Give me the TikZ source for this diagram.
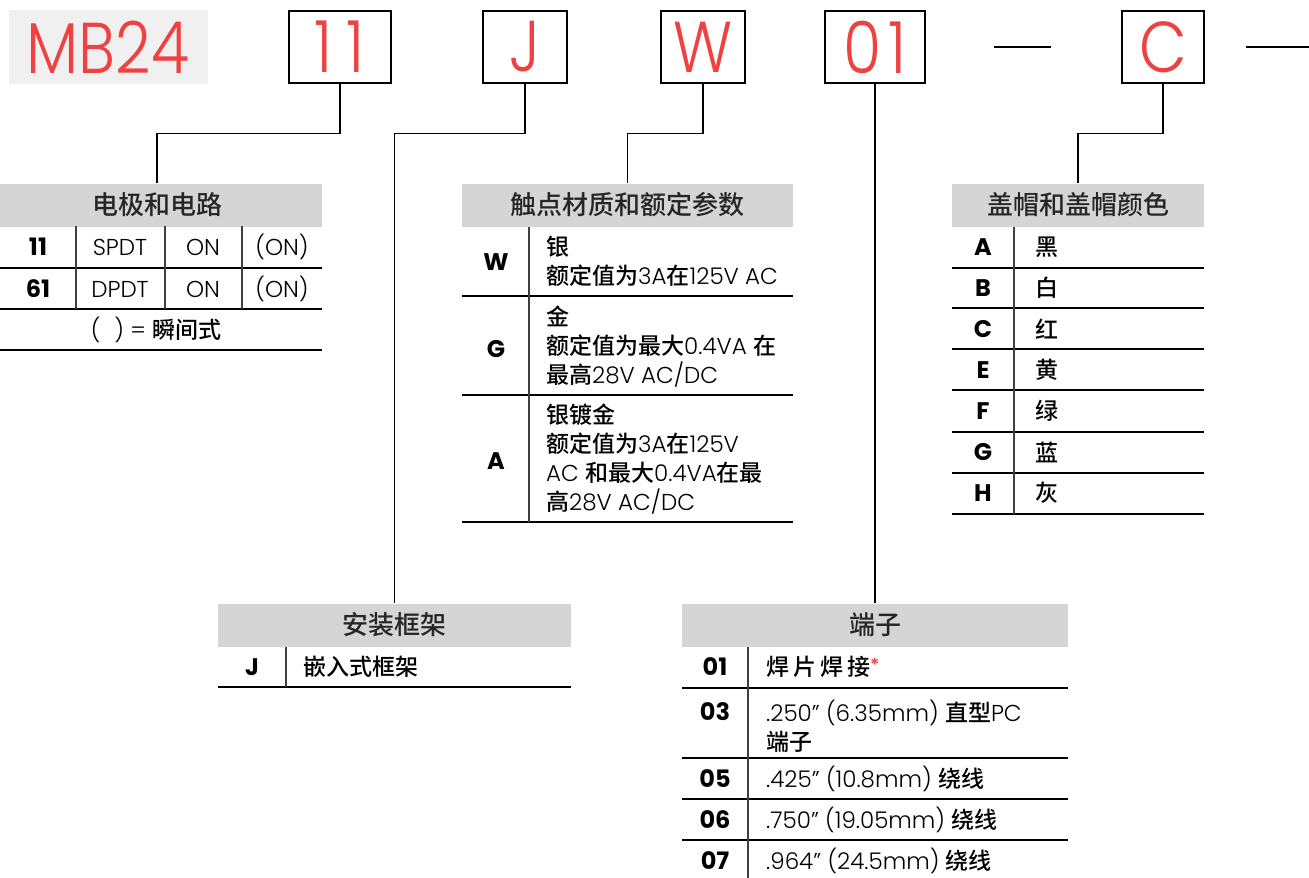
\documentclass[tikz,border=0pt]{standalone}
\usepackage{fontspec}
\setmainfont{Poppins}
\IfFontExistsTF{Poppins Light}
  {\newfontfamily\litefont{Poppins Light}\newfontfamily\codefont{Poppins Light}[FakeStretch=0.86]}
  {\newfontfamily\litefont{Poppins}\newfontfamily\codefont{Poppins}[FakeStretch=0.86]}
\IfFontExistsTF{Noto Sans CJK SC Medium}
  {\newfontfamily\cjkfont{Noto Sans CJK SC Medium}}
  {\newfontfamily\cjkfont{Noto Sans CJK SC}}
\newcommand\cjk[1]{{\cjkfont #1}}
\usepackage{tikz}
\usetikzlibrary{positioning}
\definecolor{mbred}{RGB}{239,65,66}
\definecolor{hdrgray}{RGB}{213,213,213}
\definecolor{tagbg}{RGB}{240,240,240}

\begin{document}
\begin{tikzpicture}[
        x=1pt, y=-1pt,
        box/.style={draw, line width=2.5pt, minimum height=72pt, inner sep=0pt, text=mbred, font=\codefont\fontsize{72}{72}\selectfont},
        hdr/.style={fill=hdrgray, inner sep=0pt, minimum height=43pt, font=\cjkfont\fontsize{26}{26}\selectfont, text=black!85},
        key/.style={inner sep=0pt, font=\bfseries\fontsize{24}{24}\selectfont},
        cell/.style={inner sep=0pt, font=\litefont\fontsize{23}{29}\selectfont},
        item/.style={cell, anchor=west, align=left},
        rule/.style={line width=1.4pt},
        sep/.style={line width=1.4pt, black!75},
        conn/.style={line width=1.3pt}
    ]
    \useasboundingbox (0,0) rectangle (1309,878);
    % Fila superior: codigo de pedido
    \node[fill=tagbg, minimum width=199pt, minimum height=74pt, inner sep=0pt, text=mbred, font=\codefont\fontsize{72}{72}\selectfont] (mb) at (108,47) {MB24};
    \node[box, minimum width=102pt] (b11) at (340,47) {1\hspace{14pt}1};
    \node[box, minimum width=84pt] (bJ) at (525,47) {J};
    \node[box, minimum width=84pt] (bW) at (703,47) {W};
    \node[box, minimum width=100pt] (b01) at (875,47) {0\hspace{7pt}1};
    \node[box, minimum width=82pt] (bC) at (1163,47) {C};
    \draw[line width=2.5pt] (994,47) -- (1051,47);
    \draw[line width=2.5pt] (1246,47) -- (1309,47);

    % Tabla: electrodos y circuito
    \node[hdr, minimum width=330pt] (hdr1) at (157,205) {电极和电路};
    \node[key] (k11) at (38,247) {11};
    \node[cell] (s11) at (120,247) {SPDT};
    \node[cell] (on11) at (203,247) {ON};
    \node[cell] (mo11) at (282,247) {(ON)};
    \node[key] (k61) at (38,289) {61};
    \node[cell] (s61) at (120,289) {DPDT};
    \node[cell] (on61) at (203,289) {ON};
    \node[cell] (mo61) at (282,289) {(ON)};
    \node[cell] (note1) at (156,330) {(\hspace{14pt}) = \cjk{瞬间式}};
    \draw[rule] (0,268) -- (322,268);
    \draw[rule] (0,309) -- (322,309);
    \draw[rule] (0,350) -- (322,350);
    \draw[sep] (76,226) -- (76,309);
    \draw[sep] (165,226) -- (165,309);
    \draw[sep] (242,226) -- (242,309);

    % Tabla: material de contacto
    \node[hdr, minimum width=331pt] (hdr2) at (627.5,205) {触点材质和额定参数};
    \node[key] (kW) at (496,262) {W};
    \node[item] (tW) at (546,261) {\cjk{银}\\\cjk{额定值为}3A\cjk{在}125V AC};
    \node[key] (kG) at (496,349) {G};
    \node[item] (tG) at (546,347) {\cjk{金}\\\cjk{额定值为最大}0.4VA \cjk{在}\\\cjk{最高}28V AC/DC};
    \node[key] (kA) at (496,461) {A};
    \node[item] (tA) at (546,459) {\cjk{银镀金}\\\cjk{额定值为}3A\cjk{在}125V\\AC \cjk{和最大}0.4VA\cjk{在最}\\\cjk{高}28V AC/DC};
    \draw[rule] (462,296) -- (793,296);
    \draw[rule] (462,395) -- (793,395);
    \draw[rule] (462,522) -- (793,522);
    \draw[sep] (529,227) -- (529,522);

    % Tabla: colores de capuchon
    \node[hdr, minimum width=252pt] (hdr3) at (1078,205) {盖帽和盖帽颜色};
    \node[key] (cA) at (983,247) {A};
    \node[item] (nA) at (1035,247) {\cjk{黑}};
    \node[key] (cB) at (983,288) {B};
    \node[item] (nB) at (1035,288) {\cjk{白}};
    \node[key] (cC) at (983,329) {C};
    \node[item] (nC) at (1035,329) {\cjk{红}};
    \node[key] (cE) at (983,370) {E};
    \node[item] (nE) at (1035,370) {\cjk{黄}};
    \node[key] (cF) at (983,411) {F};
    \node[item] (nF) at (1035,411) {\cjk{绿}};
    \node[key] (cG) at (983,452) {G};
    \node[item] (nG) at (1035,452) {\cjk{蓝}};
    \node[key] (cH) at (983,493) {H};
    \node[item] (nH) at (1035,493) {\cjk{灰}};
    \draw[rule] (952,268) -- (1204,268);
    \draw[rule] (952,308) -- (1204,308);
    \draw[rule] (952,349) -- (1204,349);
    \draw[rule] (952,390) -- (1204,390);
    \draw[rule] (952,432) -- (1204,432);
    \draw[rule] (952,473) -- (1204,473);
    \draw[rule] (952,514) -- (1204,514);
    \draw[sep] (1014,227) -- (1014,514);

    % Tabla: montaje
    \node[hdr, minimum width=353pt] (hdr4) at (394.5,625) {安装框架};
    \node[key] (kJ) at (252,667) {J};
    \node[item] (tJ) at (303,667) {\cjk{嵌入式框架}};
    \draw[rule] (218,687) -- (571,687);
    \draw[sep] (286,647) -- (286,687);

    % Tabla: terminales
    \node[hdr, minimum width=386pt] (hdr5) at (875,625) {端子};
    \node[key] (k01) at (715,667) {01};
    \node[item] (t01) at (766,667) {\cjk{焊\hspace{4pt}片\hspace{4pt}焊\hspace{4pt}接}\raisebox{4pt}{\textcolor{mbred}{\bfseries\fontsize{18}{18}\selectfont *}}};
    \node[key] (k03) at (715,712) {03};
    \node[item] (t03) at (766,726) {.250” (6.35mm) \cjk{直型}PC\\\cjk{端子}};
    \node[key] (k05) at (715,779) {05};
    \node[item] (t05) at (766,779) {.425” (10.8mm) \cjk{绕线}};
    \node[key] (k06) at (715,820) {06};
    \node[item] (t06) at (766,820) {.750” (19.05mm) \cjk{绕线}};
    \node[key] (k07) at (715,861) {07};
    \node[item] (t07) at (766,861) {.964” (24.5mm) \cjk{绕线}};
    \draw[rule] (682,688) -- (1068,688);
    \draw[rule] (682,758) -- (1068,758);
    \draw[rule] (682,799) -- (1068,799);
    \draw[rule] (682,840) -- (1068,840);
    \draw[sep] (748,647) -- (748,878);

    % Conectores
    \draw[conn] (b11.south) -- ++(0,49) -| (hdr1.north);
    \draw[conn] (bJ.south) -- ++(0,49) -| (hdr4.north);
    \draw[conn] (bW.south) -- ++(0,49) -| (hdr2.north);
    \draw[conn] (b01.south) -- (hdr5.north);
    \draw[conn] (bC.south) -- ++(0,49) -| (hdr3.north);
\end{tikzpicture}
\end{document}
